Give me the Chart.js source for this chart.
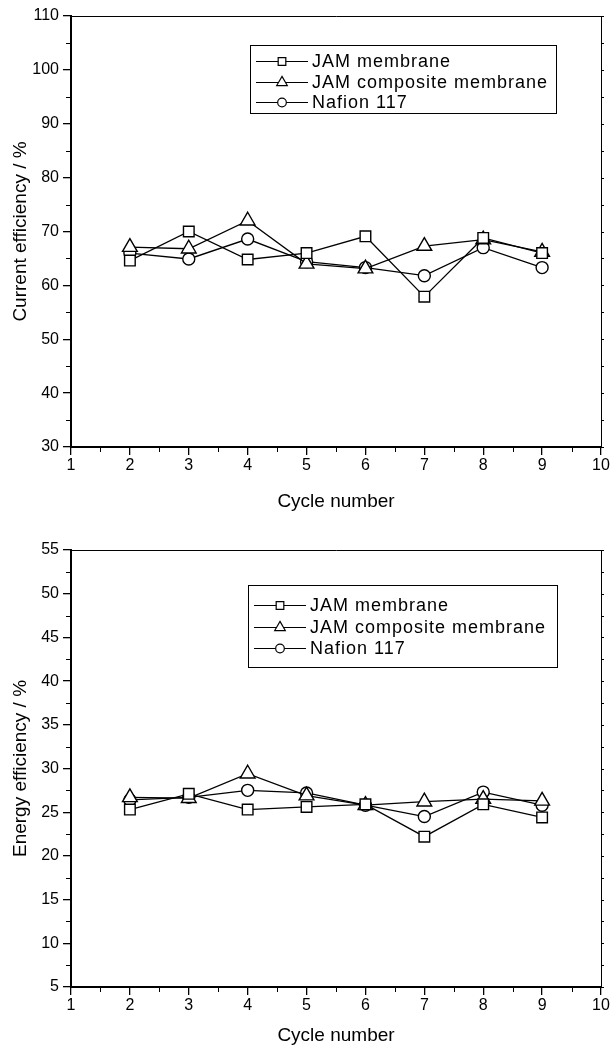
<!DOCTYPE html>
<html><head><meta charset="utf-8">
<script src="https://cdn.jsdelivr.net/npm/chart.js@4.4.1/dist/chart.umd.min.js"></script>
<style>html,body{margin:0;padding:0;background:#fff}canvas{display:block}</style>
</head><body>
<canvas id="topChart" width="612" height="525"></canvas>
<canvas id="bottomChart" width="612" height="525"></canvas>
<script>
// ---- data ----
const cycles = [2, 3, 4, 5, 6, 7, 8, 9];
const seriesLabels = ['JAM membrane', 'JAM composite membrane', 'Nafion 117'];

const currentJam       = [64.6, 70.0, 64.8, 66.0, 69.1, 57.9, 68.8, 66.0];
const currentComposite = [67.1, 66.8, 72.0, 64.0, 63.1, 67.3, 68.5, 66.2];
const currentNafion    = [66.0, 64.9, 68.6, 64.4, 63.3, 61.8, 67.0, 63.3];

const energyJam        = [25.3, 27.1, 25.3, 25.6, 25.9, 22.2, 25.9, 24.4];
const energyComposite  = [26.7, 26.6, 29.4, 26.9, 25.8, 26.2, 26.5, 26.3];
const energyNafion     = [26.4, 26.7, 27.5, 27.2, 25.8, 24.5, 27.3, 25.8];

const xTickValues = [1, 2, 3, 4, 5, 6, 7, 8, 9, 10];
const currentTicks = [30, 40, 50, 60, 70, 80, 90, 100, 110];
const energyTicks = [5, 10, 15, 20, 25, 30, 35, 40, 45, 50, 55];

// ---- styling ----
const FONT = '"Liberation Sans", Arial, Helvetica, sans-serif';
const markerStyles = ['rect', 'triangle', 'circle'];
const markerRadius = [7.5, 8.5, 6];

function drawMarker(ctx, style, x, y, r) {
  ctx.beginPath();
  if (style === 'rect') {
    const s = r * Math.SQRT1_2;
    ctx.rect(x - s, y - s, 2 * s, 2 * s);
  } else if (style === 'triangle') {
    const k = Math.sin(Math.PI / 3);
    ctx.moveTo(x, y - r);
    ctx.lineTo(x + r * k, y + r * 0.5);
    ctx.lineTo(x - r * k, y + r * 0.5);
    ctx.closePath();
  } else {
    ctx.arc(x, y, r, 0, Math.PI * 2);
  }
  ctx.fillStyle = '#fff';
  ctx.fill();
  ctx.stroke();
}

const framePlugin = {
  id: 'frame',
  afterDraw(chart) {
    const {ctx, chartArea: a} = chart;
    ctx.save();
    ctx.strokeStyle = '#000';
    ctx.lineWidth = 1;
    ctx.beginPath();
    ctx.moveTo(a.left, a.top + 0.5);
    ctx.lineTo(a.right + 0.5, a.top + 0.5);
    ctx.lineTo(a.right + 0.5, a.bottom);
    ctx.stroke();
    ctx.restore();
  }
};

const minorTickPlugin = {
  id: 'minorTicks',
  afterDraw(chart) {
    const {ctx, chartArea: a} = chart;
    const xs = chart.scales.x, ys = chart.scales.y;
    ctx.save();
    ctx.strokeStyle = '#000';
    ctx.lineWidth = 1;
    ctx.beginPath();
    const xv = xs.ticks.map(t => t.value);
    for (let i = 0; i < xv.length - 1; i++) {
      const px = Math.round(xs.getPixelForValue((xv[i] + xv[i + 1]) / 2)) + 0.5;
      ctx.moveTo(px, xs.top);
      ctx.lineTo(px, xs.top + 5);
    }
    const yv = ys.ticks.map(t => t.value);
    for (let i = 0; i < yv.length - 1; i++) {
      const py = Math.round(ys.getPixelForValue((yv[i] + yv[i + 1]) / 2)) + 0.5;
      ctx.moveTo(ys.right - 5, py);
      ctx.lineTo(ys.right, py);
    }
    // small ticks on the right frame
    for (let i = 0; i < yv.length; i++) {
      const vals = i < yv.length - 1 ? [yv[i], (yv[i] + yv[i + 1]) / 2] : [yv[i]];
      vals.forEach(v => {
        const py = Math.round(ys.getPixelForValue(v)) + 0.5;
        ctx.moveTo(a.right, py);
        ctx.lineTo(a.right + 3, py);
      });
    }
    ctx.stroke();
    ctx.restore();
  }
};

const boxLegendPlugin = {
  id: 'boxLegend',
  afterDatasetsDraw(chart, args, o) {
    const {ctx} = chart;
    ctx.save();
    ctx.strokeStyle = '#000';
    ctx.lineWidth = 1;
    ctx.fillStyle = '#fff';
    ctx.fillRect(o.x, o.y, o.w, o.h);
    ctx.strokeRect(o.x + 0.5, o.y + 0.5, o.w, o.h);
    ctx.font = '18px ' + FONT;
    try { ctx.letterSpacing = '1px'; } catch (e) {}
    ctx.textBaseline = 'middle';
    ctx.textAlign = 'left';
    chart.data.datasets.forEach((ds, i) => {
      const y = Math.round(o.y + o.first + i * o.gap) + 0.5;
      ctx.lineWidth = 1.2;
      ctx.beginPath();
      ctx.moveTo(o.x + 6, y);
      ctx.lineTo(o.x + 6 + o.lineLen, y);
      ctx.stroke();
      drawMarker(ctx, ds.pointStyle, o.x + 6 + o.lineLen / 2, y, ds.pointRadius * 0.72);
      ctx.fillStyle = '#000';
      ctx.fillText(ds.label, o.x + o.textOff, y + 1);
    });
    ctx.restore();
  }
};

function makeChart(id, cfg) {
  const datasets = seriesLabels.map((lab, i) => ({
    label: lab,
    data: cycles.map((c, j) => ({x: c, y: cfg.values[i][j]})),
    borderColor: '#000',
    borderWidth: 1.3,
    pointStyle: markerStyles[i],
    pointRadius: markerRadius[i],
    pointBorderWidth: 1.4,
    pointBackgroundColor: '#fff',
    pointBorderColor: '#000',
    tension: 0,
    fill: false
  }));
  const axisCommon = {
    grid: {drawOnChartArea: false, drawTicks: true, tickLength: 8, color: '#000', lineWidth: 1.3},
    border: {color: '#000', width: 2}
  };
  return new Chart(document.getElementById(id), {
    type: 'line',
    data: {datasets},
    options: {
      responsive: false,
      animation: false,
      devicePixelRatio: 1,
      layout: {padding: {top: cfg.padTop, right: 11, left: 0, bottom: 0}},
      plugins: {legend: {display: false}, tooltip: {enabled: false}, boxLegend: cfg.legend},
      scales: {
        x: Object.assign({
          type: 'linear', min: 1, max: 10,
          afterBuildTicks: s => { s.ticks = xTickValues.map(v => ({value: v})); },
          afterFit: s => { s.height = cfg.xHeight; },
          ticks: {color: '#000', font: {size: 16, family: FONT}, padding: 1, maxRotation: 0, autoSkip: false},
          title: {display: true, text: 'Cycle number', color: '#000', font: {size: 19, family: FONT, lineHeight: 1}, padding: {top: 0, bottom: cfg.xTitlePad}}
        }, axisCommon),
        y: Object.assign({
          type: 'linear', min: cfg.yMin, max: cfg.yMax,
          afterBuildTicks: s => { s.ticks = cfg.yTicks.map(v => ({value: v})); },
          afterFit: s => { s.width = 71; },
          ticks: {color: '#000', font: {size: 16, family: FONT}, padding: 4, autoSkip: false},
          title: {display: true, text: cfg.yTitle, color: '#000', font: {size: 19, family: FONT, lineHeight: 1}, padding: {top: 11, bottom: 0}}
        }, axisCommon)
      }
    },
    plugins: [framePlugin, minorTickPlugin, boxLegendPlugin]
  });
}

makeChart('topChart', {
  values: [currentJam, currentComposite, currentNafion],
  yMin: 30, yMax: 110, yTicks: currentTicks,
  yTitle: 'Current efficiency / %',
  padTop: 16, xHeight: 78, xTitlePad: 14,
  legend: {x: 250, y: 45, w: 306, h: 68, first: 16, gap: 20.5, lineLen: 52, textOff: 62}
});

makeChart('bottomChart', {
  values: [energyJam, energyComposite, energyNafion],
  yMin: 5, yMax: 55, yTicks: energyTicks,
  yTitle: 'Energy efficiency / %',
  padTop: 25, xHeight: 63, xTitlePad: 5,
  legend: {x: 248, y: 60, w: 309, h: 82, first: 20, gap: 21.5, lineLen: 52, textOff: 62}
});
</script>
</body></html>
